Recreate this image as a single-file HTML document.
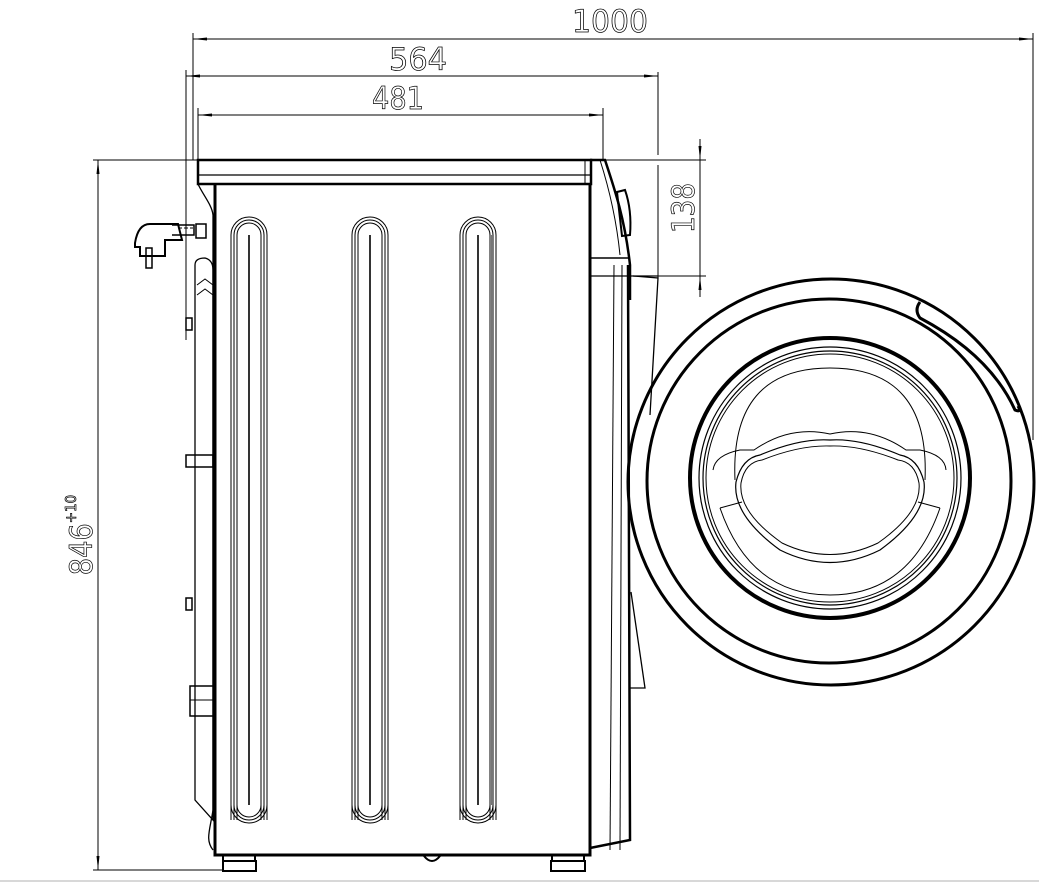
<!DOCTYPE html>
<html><head><meta charset="utf-8"><style>
html,body{margin:0;padding:0;background:#fff;}
svg{display:block;}
text{font-family:"DejaVu Sans Condensed","Liberation Sans Narrow","Liberation Sans",sans-serif;fill:none;stroke:#000;stroke-width:0.7;}
</style></head><body>
<svg width="1039" height="887" viewBox="0 0 1039 887" xmlns="http://www.w3.org/2000/svg">
<defs>
<marker id="a" markerWidth="14" markerHeight="6" refX="14" refY="3" orient="auto" markerUnits="userSpaceOnUse"><path d="M0,1.5 L14,3 L0,4.5 Z" fill="#000"/></marker>
</defs>
<rect width="1039" height="887" fill="#fff"/>
<g stroke="#000" fill="none" stroke-width="1">
<line x1="193" y1="39" x2="1033" y2="39" marker-end="url(#a)"/>
<line x1="1033" y1="39" x2="193" y2="39" marker-end="url(#a)"/>
<line x1="193" y1="33" x2="193" y2="160"/>
<line x1="1033" y1="33" x2="1033" y2="440"/>
<line x1="186" y1="76" x2="658" y2="76" marker-end="url(#a)"/>
<line x1="658" y1="76" x2="186" y2="76" marker-end="url(#a)"/>
<line x1="186" y1="70" x2="186" y2="340"/>
<line x1="658" y1="72" x2="658" y2="155"/>
<line x1="658" y1="165" x2="658" y2="280"/>
<line x1="198" y1="115" x2="603" y2="115" marker-end="url(#a)"/>
<line x1="603" y1="115" x2="198" y2="115" marker-end="url(#a)"/>
<line x1="198" y1="108" x2="198" y2="160"/>
<line x1="603" y1="108" x2="603" y2="160"/>
<line x1="700" y1="139" x2="700" y2="160" marker-end="url(#a)"/>
<line x1="700" y1="297" x2="700" y2="276" marker-end="url(#a)"/>
<line x1="700" y1="160" x2="700" y2="276"/>
<line x1="600" y1="160" x2="706" y2="160"/>
<line x1="93" y1="160" x2="600" y2="160"/>
<line x1="600" y1="276" x2="706" y2="276"/>
<line x1="98" y1="870" x2="98" y2="160" marker-end="url(#a)"/>
<line x1="98" y1="160" x2="98" y2="870" marker-end="url(#a)"/>
<line x1="93" y1="870" x2="222" y2="870"/>
</g>
<text x="610" y="32" font-size="31" text-anchor="middle" textLength="76" lengthAdjust="spacingAndGlyphs">1000</text>
<text x="418" y="70" font-size="31" text-anchor="middle" textLength="58" lengthAdjust="spacingAndGlyphs">564</text>
<text x="398" y="109" font-size="31" text-anchor="middle" textLength="52" lengthAdjust="spacingAndGlyphs">481</text>
<text transform="translate(694,208) rotate(-90)" font-size="31" text-anchor="middle" textLength="50" lengthAdjust="spacingAndGlyphs">138</text>
<text transform="translate(92,535) rotate(-90)" font-size="31" text-anchor="middle"><tspan textLength="52" lengthAdjust="spacingAndGlyphs">846</tspan><tspan font-size="15" dy="-16">+10</tspan></text>

<g stroke="#000" fill="none">
<rect x="198" y="160" width="393" height="24" stroke-width="2.5"/>
<line x1="198" y1="175" x2="591" y2="175" stroke-width="1.2"/>
<line x1="585" y1="160" x2="585" y2="184" stroke-width="1"/>
<path d="M215,184 L215,855 L590,855 L590,184" stroke-width="3"/>
<path d="M198,184 C203,195 212,205 213,215 L213,810 C210,830 205,840 213,850" stroke-width="1.3"/>
<path d="M195,265 Q195,258 205,258 Q213,260 213,270 L213,820 L195,800 Z" stroke-width="1.3"/>
<path d="M197,285 l8,-6 l8,6 M197,295 l8,-6 l8,6" stroke-width="1"/>
<rect x="186" y="318" width="6" height="12" stroke-width="1.5"/>
<rect x="186" y="455" width="27" height="12" stroke-width="1.5"/>
<rect x="186" y="598" width="6" height="12" stroke-width="1.5"/>
<rect x="190" y="686" width="24" height="30" stroke-width="1.5"/>
<line x1="190" y1="700" x2="214" y2="700" stroke-width="1"/>
<path d="M135,243 Q138,224 150,224 L178,224 L182,240 L165,240 L165,256 L140,256 L140,247 L135,247 Z" stroke-width="2"/>
<rect x="146" y="248" width="6" height="20" stroke-width="1.5"/>
<path d="M172,225 h22 v10 h-22 M196,224 h10 v14 h-10 z" stroke-width="1.5"/>
<path d="M178,228 h4 M184,228 h4 M190,228 h3" stroke-width="1"/>
<path d="M590,160 L605,160 C615,190 625,220 630,265 L630,300" stroke-width="2.5"/>
<path d="M600,160 C608,185 616,215 620,255" stroke-width="1"/>
<path d="M617,192 L625,190 Q632,210 630,235 L622,236 Z" stroke-width="2"/>
<line x1="590" y1="258" x2="630" y2="258" stroke-width="1.5"/>
<line x1="590" y1="276" x2="658" y2="276" stroke-width="1.2"/>
<path d="M633,276 L658,278 L650,415" stroke-width="1.3"/>
<path d="M631,592 L645,688 L630,688" stroke-width="1.3"/>
<path d="M628,265 L630,840 L590,848" stroke-width="2.5"/>
<path d="M614,265 L610,850" stroke-width="1"/>
<path d="M622,265 L620,850" stroke-width="1"/>
<line x1="590" y1="184" x2="590" y2="855" stroke-width="3"/>
<g stroke-width="1">
<path d="M231,820 L231,235 A18,18 0 0 1 267,235 L267,820"/>
<path d="M234,820 L234,235 A15,15 0 0 1 264,235 L264,820"/>
<path d="M237,820 L237,235 A12,12 0 0 1 261,235 L261,820"/>
<path d="M231,805 A18,18 0 0 0 267,805"/>
<path d="M234,805 A15,15 0 0 0 264,805"/>
<path d="M237,805 A12,12 0 0 0 261,805"/>
<line x1="249" y1="235" x2="249" y2="805" stroke-width="1.6"/>
<path d="M352,820 L352,235 A18,18 0 0 1 388,235 L388,820"/>
<path d="M355,820 L355,235 A15,15 0 0 1 385,235 L385,820"/>
<path d="M358,820 L358,235 A12,12 0 0 1 382,235 L382,820"/>
<path d="M352,805 A18,18 0 0 0 388,805"/>
<path d="M355,805 A15,15 0 0 0 385,805"/>
<path d="M358,805 A12,12 0 0 0 382,805"/>
<line x1="370" y1="235" x2="370" y2="805" stroke-width="1.6"/>
<path d="M460,820 L460,235 A18,18 0 0 1 496,235 L496,820"/>
<path d="M463,820 L463,235 A15,15 0 0 1 493,235 L493,820"/>
<path d="M466,820 L466,235 A12,12 0 0 1 490,235 L490,820"/>
<path d="M460,805 A18,18 0 0 0 496,805"/>
<path d="M463,805 A15,15 0 0 0 493,805"/>
<path d="M466,805 A12,12 0 0 0 490,805"/>
<line x1="478" y1="235" x2="478" y2="805" stroke-width="1.6"/>
<line x1="492" y1="235" x2="492" y2="805" stroke-width="2" stroke="#777"/>
</g>
<path d="M223,855 v6 h32 v-6" stroke-width="2"/>
<rect x="223" y="861" width="33" height="10" stroke-width="2"/>
<path d="M552,855 v6 h32 v-6" stroke-width="2"/>
<rect x="551" y="861" width="34" height="10" stroke-width="2"/>
<path d="M424,856 Q432,866 440,856" stroke-width="2"/>
<circle cx="831" cy="482" r="203" stroke-width="3"/>
<circle cx="829" cy="481" r="182" stroke-width="3"/>
<path d="M920,302 Q914,310 920,318 Q990,355 1015,410 Q1022,413 1018,406" stroke-width="3"/>
<circle cx="830" cy="478" r="140" stroke-width="4"/>
<circle cx="830" cy="478" r="131" stroke-width="1.2"/>
<circle cx="830" cy="478" r="127" stroke-width="1.2"/>
<circle cx="830" cy="478" r="124" stroke-width="1"/>
<path d="M735,480 Q730,368 830,368 Q930,368 925,480" stroke-width="1"/>
<path d="M713,470 Q715,455 740,450 L754,450 Q790,425 830,434 Q870,425 906,450 L920,450 Q945,455 946,470" stroke-width="1"/>
<path d="M736,482 Q742,458 760,455 Q800,438 830,440 Q860,438 900,455 Q918,458 924,482 Q928,515 880,550 Q830,575 780,550 Q732,515 736,482 Z" stroke-width="1.2"/>
<path d="M741,483 Q745,462 762,460 Q800,445 830,446 Q860,445 898,460 Q915,462 919,483 Q922,512 878,543 Q830,566 782,543 Q738,512 741,483 Z" stroke-width="1"/>
<path d="M720,508 L742,502 M918,502 L940,508" stroke-width="1"/>
<path d="M720,508 Q750,595 830,595 Q910,595 940,508" stroke-width="1"/>
</g>
<line x1="0" y1="881" x2="1039" y2="881" stroke="#ccc" stroke-width="1.5"/>
</svg>
</body></html>
